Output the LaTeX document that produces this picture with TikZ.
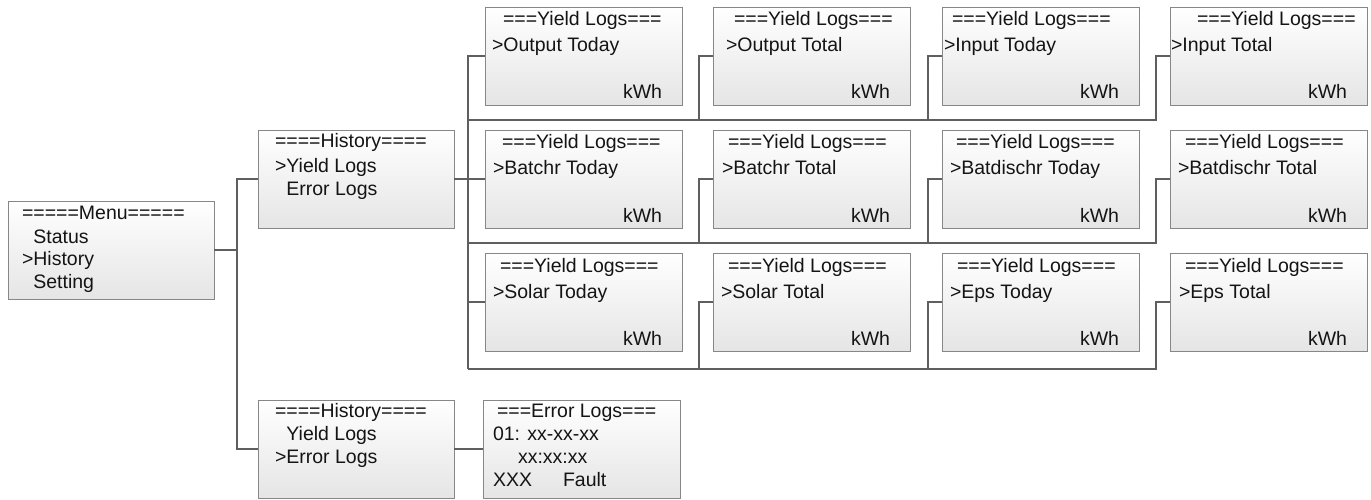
\documentclass[tikz,border=0pt]{standalone}
\usepackage{fontspec}
\setmainfont{Liberation Sans}
\usetikzlibrary{calc}
\definecolor{boxline}{RGB}{135,135,135}
\definecolor{boxfill}{RGB}{229,229,229}
\definecolor{connc}{RGB}{95,95,95}
\definecolor{textc}{RGB}{20,20,20}
\newcommand\ylbox[6]{%
  \node[box, minimum width=197pt, minimum height=98pt] (#1) at (#2,#3) {};
  \node[txt] (#1t) at ({#2+#4},{#3+19}) {===Yield Logs===};
  \node[txt] (#1l) at ({#2+#5},{#3+45}) {>#6};
  \node[rtxt] (#1u) at ({#2+177},{#3+92}) {kWh};
}
\begin{document}
\begin{tikzpicture}[x=1pt,y=-1pt,
  box/.style={rectangle, draw=boxline, line width=0.9pt, top color=white, bottom color=boxfill, anchor=north west, inner sep=0pt, outer sep=0pt},
  txt/.style={anchor=base west, inner sep=0pt, outer sep=0pt, font=\fontsize{19.5}{23}\selectfont, text=textc},
  rtxt/.style={txt, anchor=base east},
  conn/.style={draw=connc, line width=2.2pt}]
\useasboundingbox (0,0) rectangle (1371,500);

% Menu
\node[box, minimum width=206pt, minimum height=98pt] (menu) at (8,201) {};
\node[txt] (menu1) at (22,219) {=====Menu=====};
\node[txt] (menu2) at (22,243) {\phantom{>}Status};
\node[txt] (menu3) at (22,265) {>History};
\node[txt] (menu4) at (22,288) {\phantom{>}Setting};

% History (yield selected)
\node[box, minimum width=196pt, minimum height=98pt] (h1) at (258,130) {};
\node[txt] (h1a) at (275,148) {====History====};
\node[txt] (h1b) at (275,172) {>Yield Logs};
\node[txt] (h1c) at (275,196) {\phantom{>}Error Logs};

% History (error selected)
\node[box, minimum width=196pt, minimum height=98pt] (h2) at (258,400) {};
\node[txt] (h2a) at (275,417) {====History====};
\node[txt] (h2b) at (275,440) {\phantom{>}Yield Logs};
\node[txt] (h2c) at (275,463) {>Error Logs};

% Error logs
\node[box, minimum width=197pt, minimum height=98pt] (el) at (483,400) {};
\node[txt] (ela) at (497,417) {===Error Logs===};
\node[txt] (elb) at (493,440) {01: xx-xx-xx};
\node[txt] (elc) at (518,463) {xx:xx:xx};
\node[txt] (eld) at (493,486) {XXX};
\node[txt] (ele) at (563,486) {Fault};

% Yield log boxes
\ylbox{y11}{485}{7}{18}{7}{Output Today}
\ylbox{y12}{713}{7}{21}{13}{Output Total}
\ylbox{y13}{942}{7}{10}{2}{Input Today}
\ylbox{y14}{1170}{7}{27}{1}{Input Total}
\ylbox{y21}{485}{130}{17}{8}{Batchr Today}
\ylbox{y22}{713}{130}{15}{9}{Batchr Total}
\ylbox{y23}{942}{130}{14}{8}{Batdischr Today}
\ylbox{y24}{1170}{130}{15}{8}{Batdischr Total}
\ylbox{y31}{485}{253}{15}{8}{Solar Today}
\ylbox{y32}{713}{253}{15}{8}{Solar Total}
\ylbox{y33}{942}{253}{15}{8}{Eps Today}
\ylbox{y34}{1170}{253}{15}{9}{Eps Total}

% connectors: menu -> history
\coordinate (sp1) at (237,179);
\coordinate (sp2) at (237,449);
\draw[conn] (menu.east) -- (menu.east -| sp1);
\draw[conn] (h1.west) -| (sp2) -- (h2.west);
\draw[conn] (h2.east) -- (el.west);

% history -> yield logs
\coordinate (bus1) at (468,120);
\coordinate (bus2) at (468,243);
\coordinate (bus3) at (468,369);
\draw[conn] (y11.west) -| (bus3);
\draw[conn] (h1.east) -- (y21.west);
\draw[conn] (y31.west) -- (y31.west -| bus3);
\foreach \r/\b in {1/bus1,2/bus2,3/bus3}{
  \foreach \c in {2,3,4}{
    \draw[conn] (y\r\c.west) -- ++(-14,0) |- (\b);
  }
}
\end{tikzpicture}
\end{document}
